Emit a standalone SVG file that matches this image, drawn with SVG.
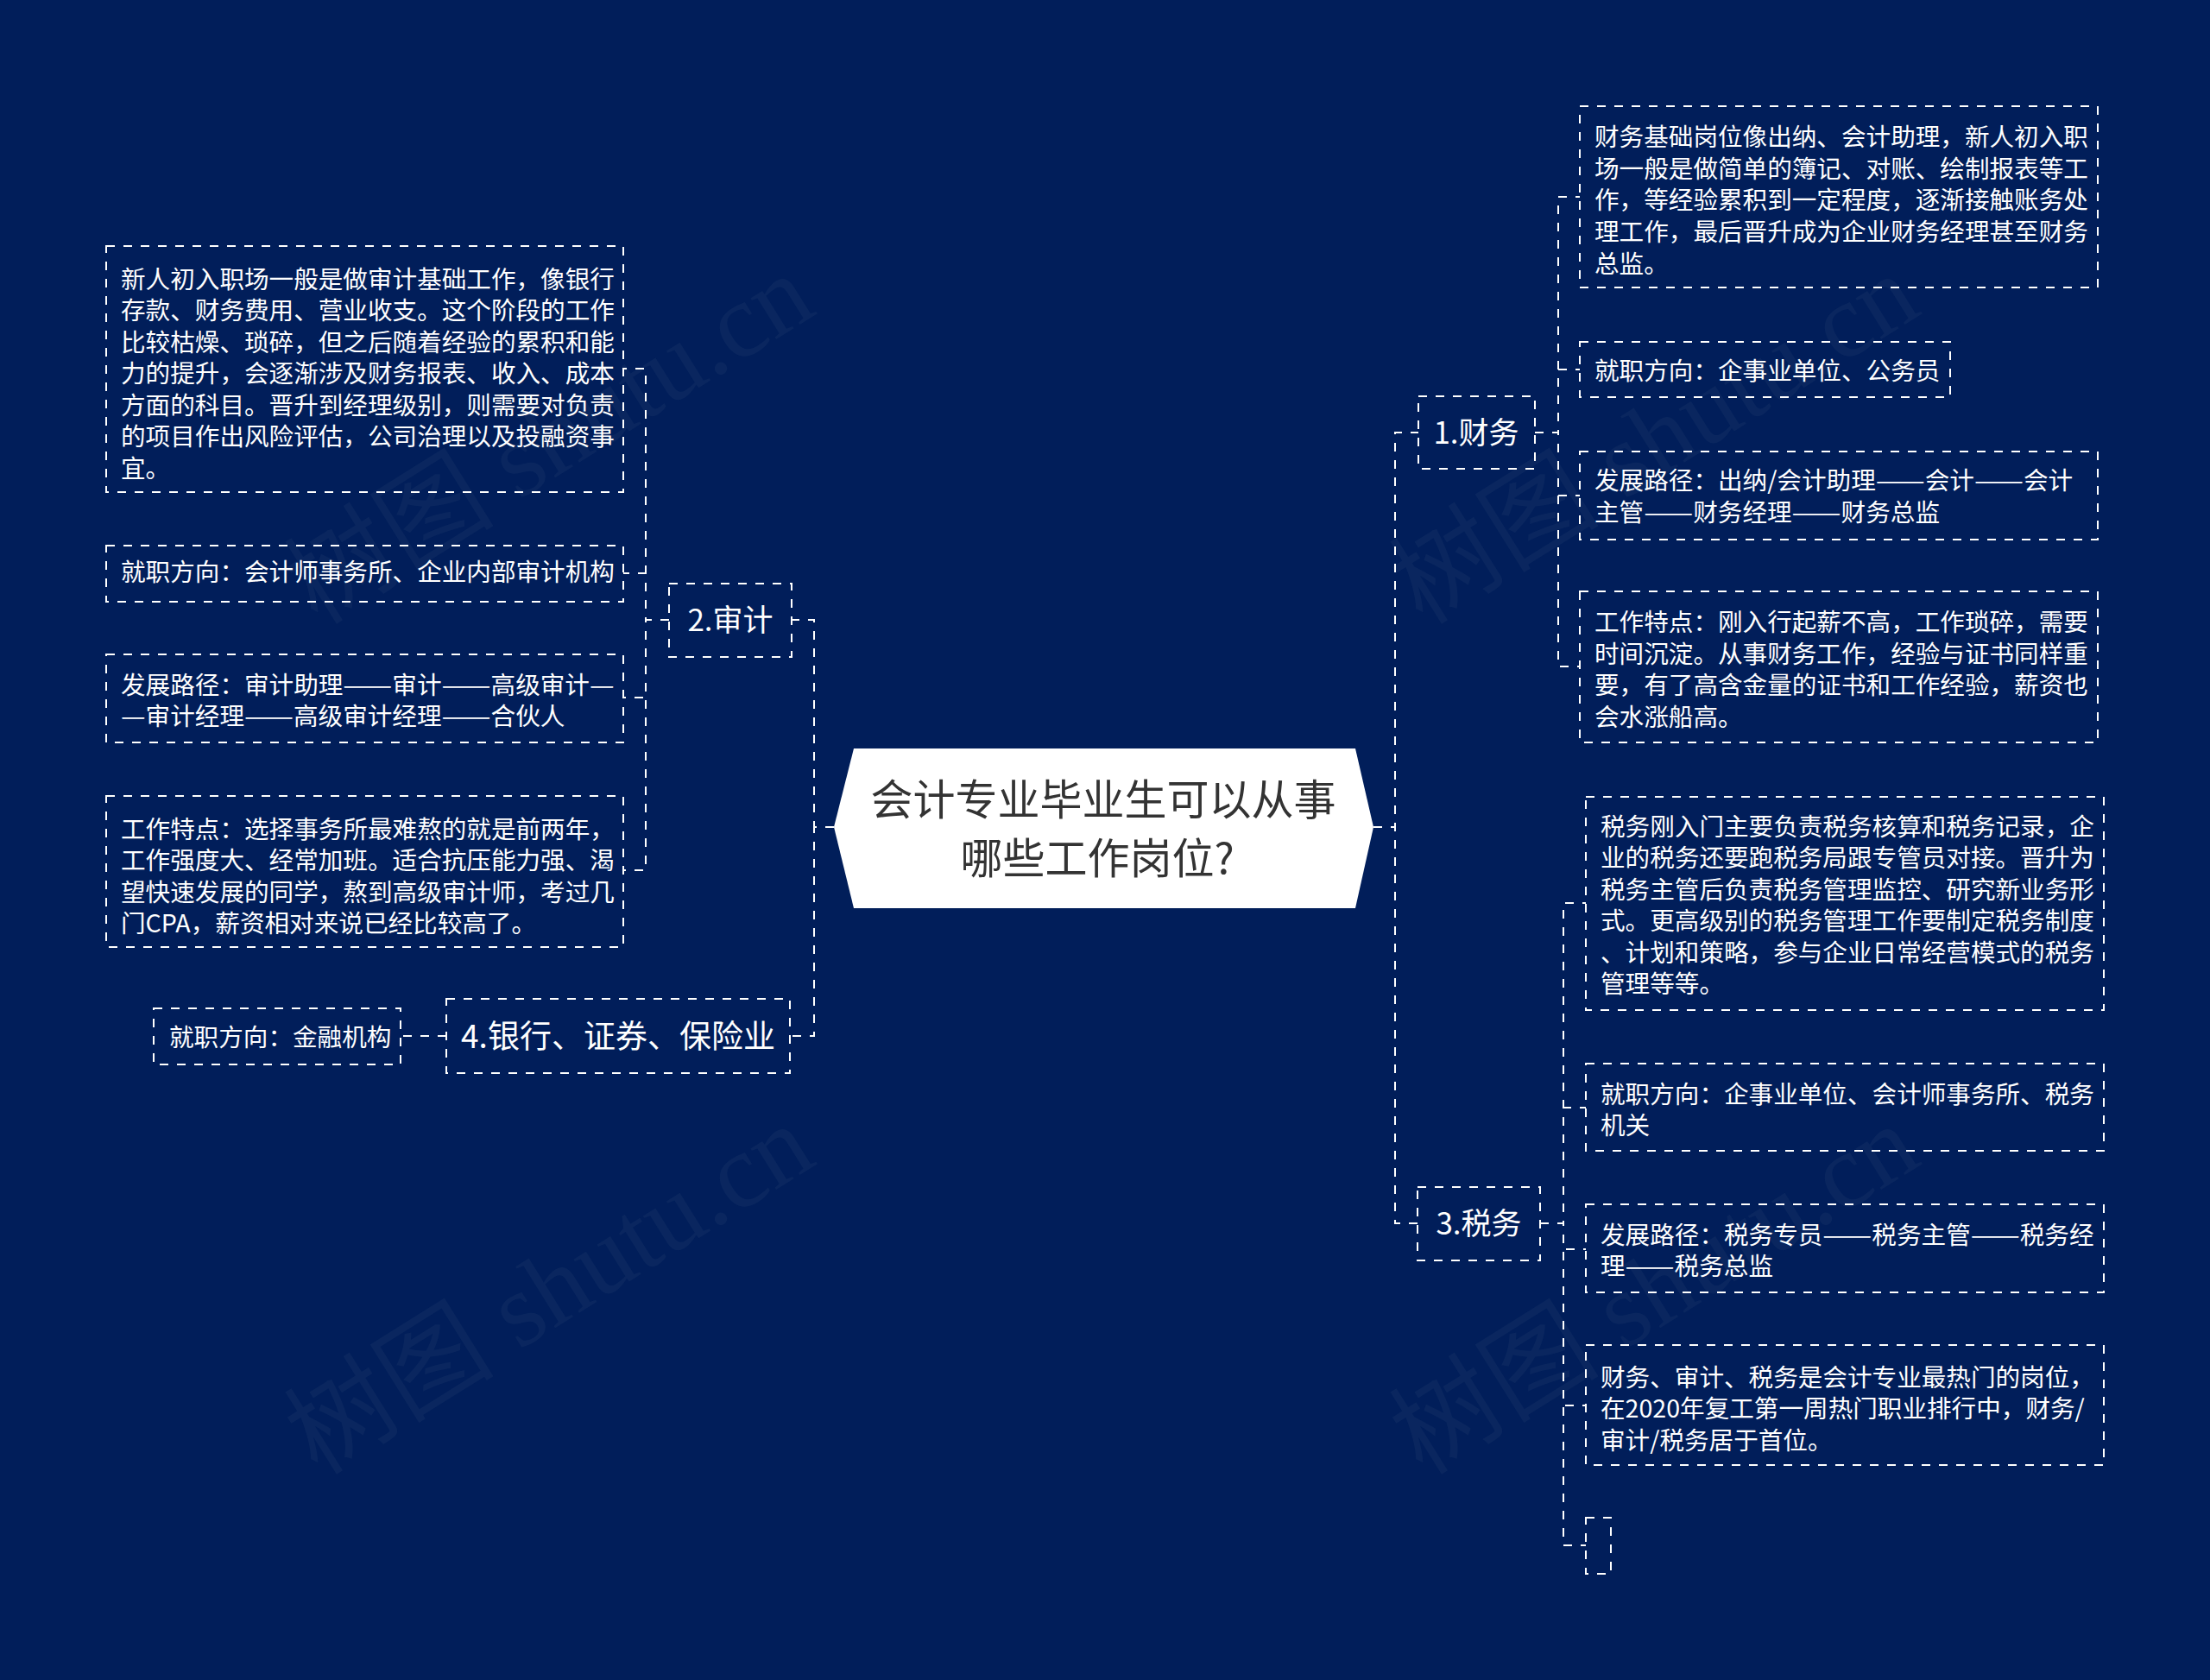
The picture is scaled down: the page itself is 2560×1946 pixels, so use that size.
<svg xmlns="http://www.w3.org/2000/svg" width="2560" height="1946" viewBox="0 0 2560 1946">
<style>
.bg{fill:#011e5a}
.wm{font-family:"Liberation Serif","Noto Sans CJK SC",serif;font-size:122px;fill:#8a96b0;fill-opacity:0.07}
.box{fill:none;stroke:#ffffff;stroke-width:2;stroke-dasharray:10 10}
.con{fill:none;stroke:#ffffff;stroke-width:2;stroke-dasharray:10 10}
.t{font-family:"Noto Sans CJK SC","Noto Sans",sans-serif;font-size:28.6px;fill:#ffffff}
.n{font-family:"Noto Sans CJK SC","Noto Sans",sans-serif;font-size:35px;fill:#ffffff;text-anchor:middle}
.c{font-family:"Noto Sans CJK SC","Noto Sans",sans-serif;font-size:49px;fill:#333333;text-anchor:middle}
</style>
<rect class="bg" x="0" y="0" width="2560" height="1946"/>
<g id="watermarks">
<text class="wm" x="368" y="725" transform="rotate(-32 368 725)">树图 shutu.cn</text>
<text class="wm" x="1648" y="725" transform="rotate(-32 1648 725)">树图 shutu.cn</text>
<text class="wm" x="368" y="1710" transform="rotate(-32 368 1710)">树图 shutu.cn</text>
<text class="wm" x="1648" y="1710" transform="rotate(-32 1648 1710)">树图 shutu.cn</text>
</g>
<g id="connectors">
<path class="con" d="M1591 958 H1616 V501 H1643"/>
<path class="con" d="M1591 958 H1616 V1417 H1642"/>
<path class="con" d="M966 958 H943 V718 H917"/>
<path class="con" d="M966 958 H943 V1200 H915"/>
<path class="con" d="M1778 501 H1805 V228 H1830"/>
<path class="con" d="M1778 501 H1805 V428 H1830"/>
<path class="con" d="M1778 501 H1805 V574 H1830"/>
<path class="con" d="M1778 501 H1805 V772 H1830"/>
<path class="con" d="M1784 1417 H1811 V1046 H1837"/>
<path class="con" d="M1784 1417 H1811 V1283 H1837"/>
<path class="con" d="M1784 1417 H1811 V1447 H1837"/>
<path class="con" d="M1784 1417 H1811 V1628 H1837"/>
<path class="con" d="M1784 1417 H1811 V1790 H1837"/>
<path class="con" d="M775 718 H748 V427 H722"/>
<path class="con" d="M775 718 H748 V664 H722"/>
<path class="con" d="M775 718 H748 V808 H722"/>
<path class="con" d="M775 718 H748 V1008 H722"/>
<path class="con" d="M517 1200 H464"/>
</g>
<g id="root">
<polygon points="966,958 989,867 1570,867 1591,958 1570,1052 989,1052" fill="#ffffff"/>
<text class="c" x="1278" y="944">会计专业毕业生可以从事</text>
<text class="c" x="1271" y="1012">哪些工作岗位?</text>
</g>
<g id="n-caiwu">
<rect class="box" x="1643" y="459" width="135" height="84"/>
<text class="n" x="1710" y="514">1.财务</text>
</g>
<g id="n-shenji">
<rect class="box" x="775" y="676" width="142" height="85"/>
<text class="n" x="846" y="731">2.审计</text>
</g>
<g id="n-shuiwu">
<rect class="box" x="1642" y="1375" width="142" height="85"/>
<text class="n" x="1713" y="1430">3.税务</text>
</g>
<g id="n-yinhang">
<rect class="box" x="517" y="1157" width="398" height="86"/>
<text class="n" x="716" y="1214" style="font-size:37px">4.银行、证券、保险业</text>
</g>
<g id="f1">
<rect class="box" x="1830" y="123" width="600" height="210"/>
<text class="t"><tspan x="1847" y="168.5">财务基础岗位像出纳、会计助理，新人初入职</tspan><tspan x="1847" y="205.5">场一般是做简单的簿记、对账、绘制报表等工</tspan><tspan x="1847" y="242">作，等经验累积到一定程度，逐渐接触账务处</tspan><tspan x="1847" y="278.5">理工作，最后晋升成为企业财务经理甚至财务</tspan><tspan x="1847" y="315.5">总监。</tspan></text>
</g>
<g id="f2">
<rect class="box" x="1830" y="396" width="429" height="64"/>
<text class="t" x="1847" y="439.5">就职方向：企事业单位、公务员</text>
</g>
<g id="f3">
<rect class="box" x="1830" y="523" width="600" height="102"/>
<text class="t"><tspan x="1847" y="567">发展路径：出纳/会计助理</tspan><tspan textLength="57" lengthAdjust="spacingAndGlyphs">——</tspan><tspan>会计</tspan><tspan textLength="57" lengthAdjust="spacingAndGlyphs">——</tspan><tspan>会计</tspan><tspan x="1847" y="603.5">主管</tspan><tspan textLength="57" lengthAdjust="spacingAndGlyphs">——</tspan><tspan>财务经理</tspan><tspan textLength="57" lengthAdjust="spacingAndGlyphs">——</tspan><tspan>财务总监</tspan></text>
</g>
<g id="f4">
<rect class="box" x="1830" y="685" width="600" height="175"/>
<text class="t"><tspan x="1847" y="730.5">工作特点：刚入行起薪不高，工作琐碎，需要</tspan><tspan x="1847" y="767.5">时间沉淀。从事财务工作，经验与证书同样重</tspan><tspan x="1847" y="804">要，有了高含金量的证书和工作经验，薪资也</tspan><tspan x="1847" y="840.5">会水涨船高。</tspan></text>
</g>
<g id="t1">
<rect class="box" x="1837" y="923" width="600" height="247"/>
<text class="t"><tspan x="1854" y="967.5">税务刚入门主要负责税务核算和税务记录，企</tspan><tspan x="1854" y="1004">业的税务还要跑税务局跟专管员对接。晋升为</tspan><tspan x="1854" y="1040.5">税务主管后负责税务管理监控、研究新业务形</tspan><tspan x="1854" y="1077">式。更高级别的税务管理工作要制定税务制度</tspan><tspan x="1854" y="1113.5">、计划和策略，参与企业日常经营模式的税务</tspan><tspan x="1854" y="1150">管理等等。</tspan></text>
</g>
<g id="t2">
<rect class="box" x="1837" y="1232" width="600" height="101"/>
<text class="t"><tspan x="1854" y="1277.5">就职方向：企事业单位、会计师事务所、税务</tspan><tspan x="1854" y="1314">机关</tspan></text>
</g>
<g id="t3">
<rect class="box" x="1837" y="1395" width="600" height="102"/>
<text class="t"><tspan x="1854" y="1440.5">发展路径：税务专员</tspan><tspan textLength="57" lengthAdjust="spacingAndGlyphs">——</tspan><tspan>税务主管</tspan><tspan textLength="57" lengthAdjust="spacingAndGlyphs">——</tspan><tspan>税务经</tspan><tspan x="1854" y="1477">理</tspan><tspan textLength="57" lengthAdjust="spacingAndGlyphs">——</tspan><tspan>税务总监</tspan></text>
</g>
<g id="t4">
<rect class="box" x="1837" y="1558" width="600" height="139"/>
<text class="t"><tspan x="1854" y="1605.5">财务、审计、税务是会计专业最热门的岗位，</tspan><tspan x="1854" y="1642">在2020年复工第一周热门职业排行中，财务/</tspan><tspan x="1854" y="1678.5">审计/税务居于首位。</tspan></text>
</g>
<g id="t5">
<rect class="box" x="1837" y="1758" width="29" height="65"/>
</g>
<g id="a1">
<rect class="box" x="123" y="285" width="599" height="285"/>
<text class="t"><tspan x="140" y="333.5">新人初入职场一般是做审计基础工作，像银行</tspan><tspan x="140" y="370">存款、财务费用、营业收支。这个阶段的工作</tspan><tspan x="140" y="406.5">比较枯燥、琐碎，但之后随着经验的累积和能</tspan><tspan x="140" y="443">力的提升，会逐渐涉及财务报表、收入、成本</tspan><tspan x="140" y="479.5">方面的科目。晋升到经理级别，则需要对负责</tspan><tspan x="140" y="516">的项目作出风险评估，公司治理以及投融资事</tspan><tspan x="140" y="552.5">宜。</tspan></text>
</g>
<g id="a2">
<rect class="box" x="123" y="632" width="599" height="65"/>
<text class="t" x="140" y="672.5">就职方向：会计师事务所、企业内部审计机构</text>
</g>
<g id="a3">
<rect class="box" x="123" y="758" width="599" height="102"/>
<text class="t"><tspan x="140" y="803.5">发展路径：审计助理</tspan><tspan textLength="57" lengthAdjust="spacingAndGlyphs">——</tspan><tspan>审计</tspan><tspan textLength="57" lengthAdjust="spacingAndGlyphs">——</tspan><tspan>高级审计</tspan><tspan textLength="28.6" lengthAdjust="spacingAndGlyphs">—</tspan><tspan x="140" y="840" textLength="28.6" lengthAdjust="spacingAndGlyphs">—</tspan><tspan>审计经理</tspan><tspan textLength="57" lengthAdjust="spacingAndGlyphs">——</tspan><tspan>高级审计经理</tspan><tspan textLength="57" lengthAdjust="spacingAndGlyphs">——</tspan><tspan>合伙人</tspan></text>
</g>
<g id="a4">
<rect class="box" x="123" y="922" width="599" height="175"/>
<text class="t"><tspan x="140" y="970.5">工作特点：选择事务所最难熬的就是前两年，</tspan><tspan x="140" y="1007">工作强度大、经常加班。适合抗压能力强、渴</tspan><tspan x="140" y="1043.5">望快速发展的同学，熬到高级审计师，考过几</tspan><tspan x="140" y="1080">门CPA，薪资相对来说已经比较高了。</tspan></text>
</g>
<g id="b1">
<rect class="box" x="178" y="1168" width="286" height="65"/>
<text class="t" x="196" y="1211.5">就职方向：金融机构</text>
</g>
</svg>
